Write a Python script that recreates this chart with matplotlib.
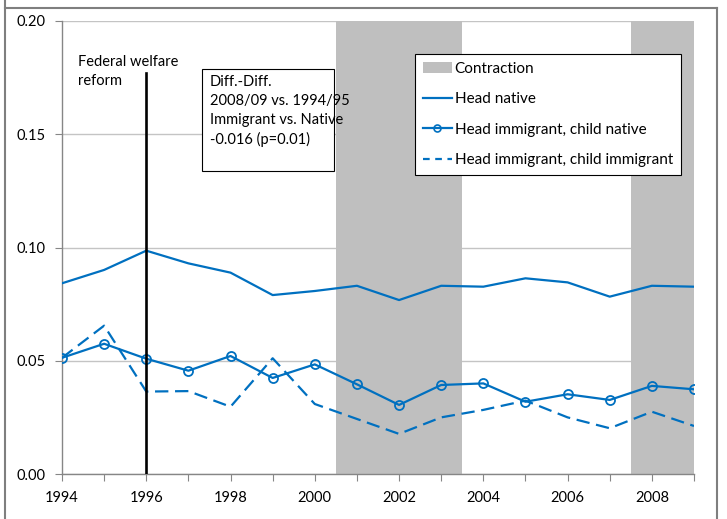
import numpy as np
import matplotlib.pyplot as plt
from matplotlib.lines import Line2D
from matplotlib.patches import Patch, Rectangle

plt.rcParams['font.family'] = ['Lato', 'DejaVu Sans']

# data
years = np.arange(1994, 2010)
head_native = [0.0842, 0.0901, 0.0986, 0.0930, 0.0889, 0.0790, 0.0808, 0.0831,
               0.0768, 0.0831, 0.0827, 0.0864, 0.0846, 0.0783, 0.0831, 0.0827]
imm_child_native = [0.0513, 0.0575, 0.0509, 0.0456, 0.0521, 0.0424, 0.0484, 0.0396,
                    0.0305, 0.0393, 0.0400, 0.0319, 0.0352, 0.0327, 0.0389, 0.0374]
imm_child_imm = [0.0513, 0.0655, 0.0364, 0.0366, 0.0297, 0.0511, 0.0309, 0.0243,
                 0.0177, 0.0250, 0.0283, 0.0324, 0.0250, 0.0202, 0.0275, 0.0212]
contractions = [(2000.5, 2003.5), (2007.5, 2009.0)]
reform_year = 1996
reform_top = 0.177
yticks = [0.00, 0.05, 0.10, 0.15, 0.20]
xlabels = [str(y) if y % 2 == 0 else '' for y in years]
labels = ['Contraction', 'Head native', 'Head immigrant, child native',
          'Head immigrant, child immigrant']
note_text = 'Diff.-Diff.\n2008/09 vs. 1994/95\nImmigrant vs. Native\n-0.016 (p=0.01)'

W, H = 727, 519
blue = '#0070C0'
shade = '#BFBFBF'
axis_gray = '#868686'

fig = plt.figure(figsize=(W / 100, H / 100), dpi=100)
ax = fig.add_axes([62 / W, 45 / H, 632 / W, 453 / H])

for a, b in contractions:
    ax.axvspan(a, b, color=shade, lw=0, zorder=1)

ax.plot(years, head_native, color=blue, lw=1.6, zorder=3)
ax.plot(years, imm_child_native, color=blue, lw=1.6, marker='o', ms=6.5,
        mfc='none', mec=blue, mew=1.3, zorder=3)
ax.plot(years, imm_child_imm, color=blue, lw=1.6, dashes=(6, 3), zorder=3)
ax.plot([reform_year, reform_year], [0, reform_top], color='black', lw=1.9, zorder=4)

ax.set_xlim(1994, 2009)
ax.set_ylim(0, 0.2)
ax.set_yticks(yticks)
ax.set_yticklabels(['%.2f' % v for v in yticks])
ax.set_xticks(years)
ax.set_xticklabels(xlabels)
ax.yaxis.grid(True, color='#C4C4C4', lw=1.0, zorder=0)
ax.set_axisbelow(True)
for s in ['top', 'right']:
    ax.spines[s].set_visible(False)
for s in ['left', 'bottom']:
    ax.spines[s].set_color(axis_gray)
    ax.spines[s].set_linewidth(1.0)
ax.tick_params(axis='both', direction='out', length=5, color=axis_gray,
               labelsize=10.5, labelcolor='black')
ax.tick_params(axis='x', pad=7)
ax.tick_params(axis='y', pad=7)

handles = [Patch(facecolor=shade, edgecolor='none'),
           Line2D([], [], color=blue, lw=1.6),
           Line2D([], [], color=blue, lw=1.6, marker='o', ms=5, mfc='none', mew=1.2),
           Line2D([], [], color=blue, lw=1.6, dashes=(3, 2.5))]
leg = fig.legend(handles, labels, loc='upper left',
                 bbox_to_anchor=(415 / W, 1 - 54 / H), bbox_transform=fig.transFigure,
                 fontsize=11, frameon=True, fancybox=False, framealpha=1,
                 edgecolor='black', handlelength=1.9, handletextpad=0.2,
                 labelspacing=1.08, borderpad=0.5, borderaxespad=0)
leg.get_frame().set_linewidth(0.8)

fig.add_artist(Rectangle((202 / W, 1 - 171 / H), 132 / W, 102 / H,
                         transform=fig.transFigure, facecolor='white',
                         edgecolor='black', lw=0.8, zorder=5))
fig.text(210 / W, 1 - 75 / H, note_text, fontsize=10.5, va='top', ha='left',
         linespacing=1.45, zorder=6)
fig.text(78 / W, 1 - 55 / H, 'Federal welfare\nreform', fontsize=10.5,
         va='top', ha='left', linespacing=1.45)

# outer frame of the figure
for xs, ys in [([5, 5], [0, H]), ([5, 717], [8, 8]), ([717, 717], [8, H])]:
    fig.add_artist(Line2D([x / W for x in xs], [1 - y / H for y in ys],
                          transform=fig.transFigure, color='#7F7F7F', lw=1.5))

fig.savefig('out.png', dpi=100)
